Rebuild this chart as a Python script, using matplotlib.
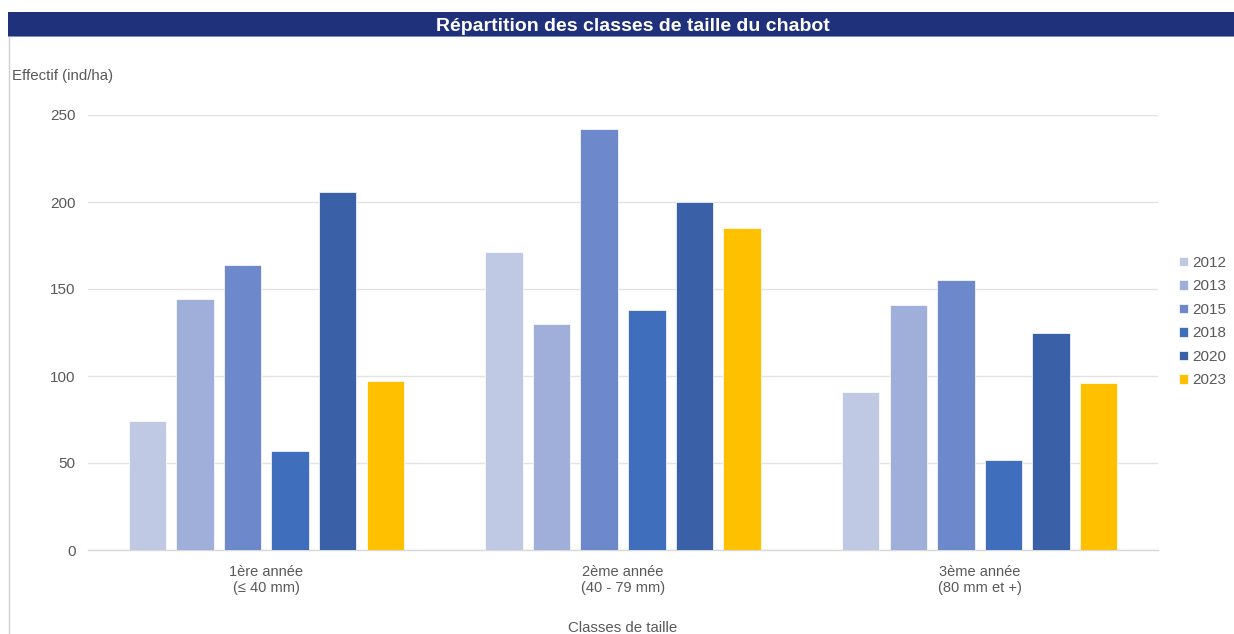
import matplotlib
matplotlib.use("Agg")
import matplotlib.pyplot as plt
import numpy as np

plt.rcParams['font.family'] = ['Liberation Sans', 'DejaVu Sans']

categories = ["1ère année\n(≤ 40 mm)", "2ème année\n(40 - 79 mm)", "3ème année\n(80 mm et +)"]
years = ["2012", "2013", "2015", "2018", "2020", "2023"]
values_2012 = [74, 171, 91]
values_2013 = [144, 130, 141]
values_2015 = [164, 242, 155]
values_2018 = [57, 138, 52]
values_2020 = [206, 200, 125]
values_2023 = [97, 185, 96]
series = [values_2012, values_2013, values_2015, values_2018, values_2020, values_2023]
colors = ["#BFC9E4", "#A0AFDA", "#6E89CB", "#3F6EBD", "#3A60A8", "#FFC000"]
y_ticks = [0, 50, 100, 150, 200, 250]

W, H = 1234, 634
fig = plt.figure(figsize=(W / 100, H / 100), dpi=100)
fig.patch.set_facecolor("white")

# title banner
banner = fig.add_axes([8 / W, 1 - 37 / H, 1 - 8 / W, 25 / H])
banner.set_facecolor("#1F317A")
banner.set_xticks([]); banner.set_yticks([])
for s in banner.spines.values():
    s.set_visible(False)
banner.axhline(0, color="#8FA0CF", lw=1.2)
fig.text(633 / W, 1 - 31 / H, "Répartition des classes de taille du chabot",
         color="white", fontsize=14, fontweight="bold", ha="center", va="baseline")

# left frame line
fig.add_artist(plt.Line2D([8.5 / W, 8.5 / W], [0, 1 - 37 / H], color="#D0D0D0", lw=1,
                          transform=fig.transFigure))

ax = fig.add_axes([88 / W, (H - 550) / H, (1158 - 88) / W, 435 / H])
x = np.arange(len(categories))
step = 0.1335
width = 0.105
offsets = (np.arange(len(years)) - (len(years) - 1) / 2) * step
for i, (yr, vals) in enumerate(zip(years, series)):
    ax.bar(x + offsets[i], vals, width, color=colors[i], label=yr,
           edgecolor="white", linewidth=0.5, zorder=3)

ax.set_xlim(-0.5, 2.5)
ax.set_ylim(0, 250)
ax.set_yticks(y_ticks)
ax.yaxis.grid(True, color="#E3E3E3", lw=1, zorder=0)
ax.set_axisbelow(True)
ax.set_xticks(x)
ax.set_xticklabels(categories, fontsize=10.5, color="#595959", linespacing=1.15)
ax.tick_params(axis="y", length=0, labelsize=11, labelcolor="#595959", pad=9)
ax.tick_params(axis="x", length=0, labelcolor="#595959", pad=11)
for s in ["top", "right", "left"]:
    ax.spines[s].set_visible(False)
ax.spines["bottom"].set_color("#D9D9D9")
ax.spines["bottom"].set_linewidth(1)

fig.text(12 / W, 1 - 76 / H, "Effectif (ind/ha)", fontsize=10.8, color="#595959",
         ha="left", va="center")
fig.text(623 / W, 1 - 628 / H, "Classes de taille", fontsize=10.8, color="#595959",
         ha="center", va="center")

leg = fig.legend(loc="upper left", bbox_to_anchor=(1179 / W, 1 - 256 / H), frameon=False,
                 fontsize=11, labelcolor="#595959", handlelength=0.6, handleheight=0.6,
                 handletextpad=0.25, labelspacing=0.62, borderpad=0, borderaxespad=0)

fig.savefig("out.png", dpi=100, facecolor="white")
